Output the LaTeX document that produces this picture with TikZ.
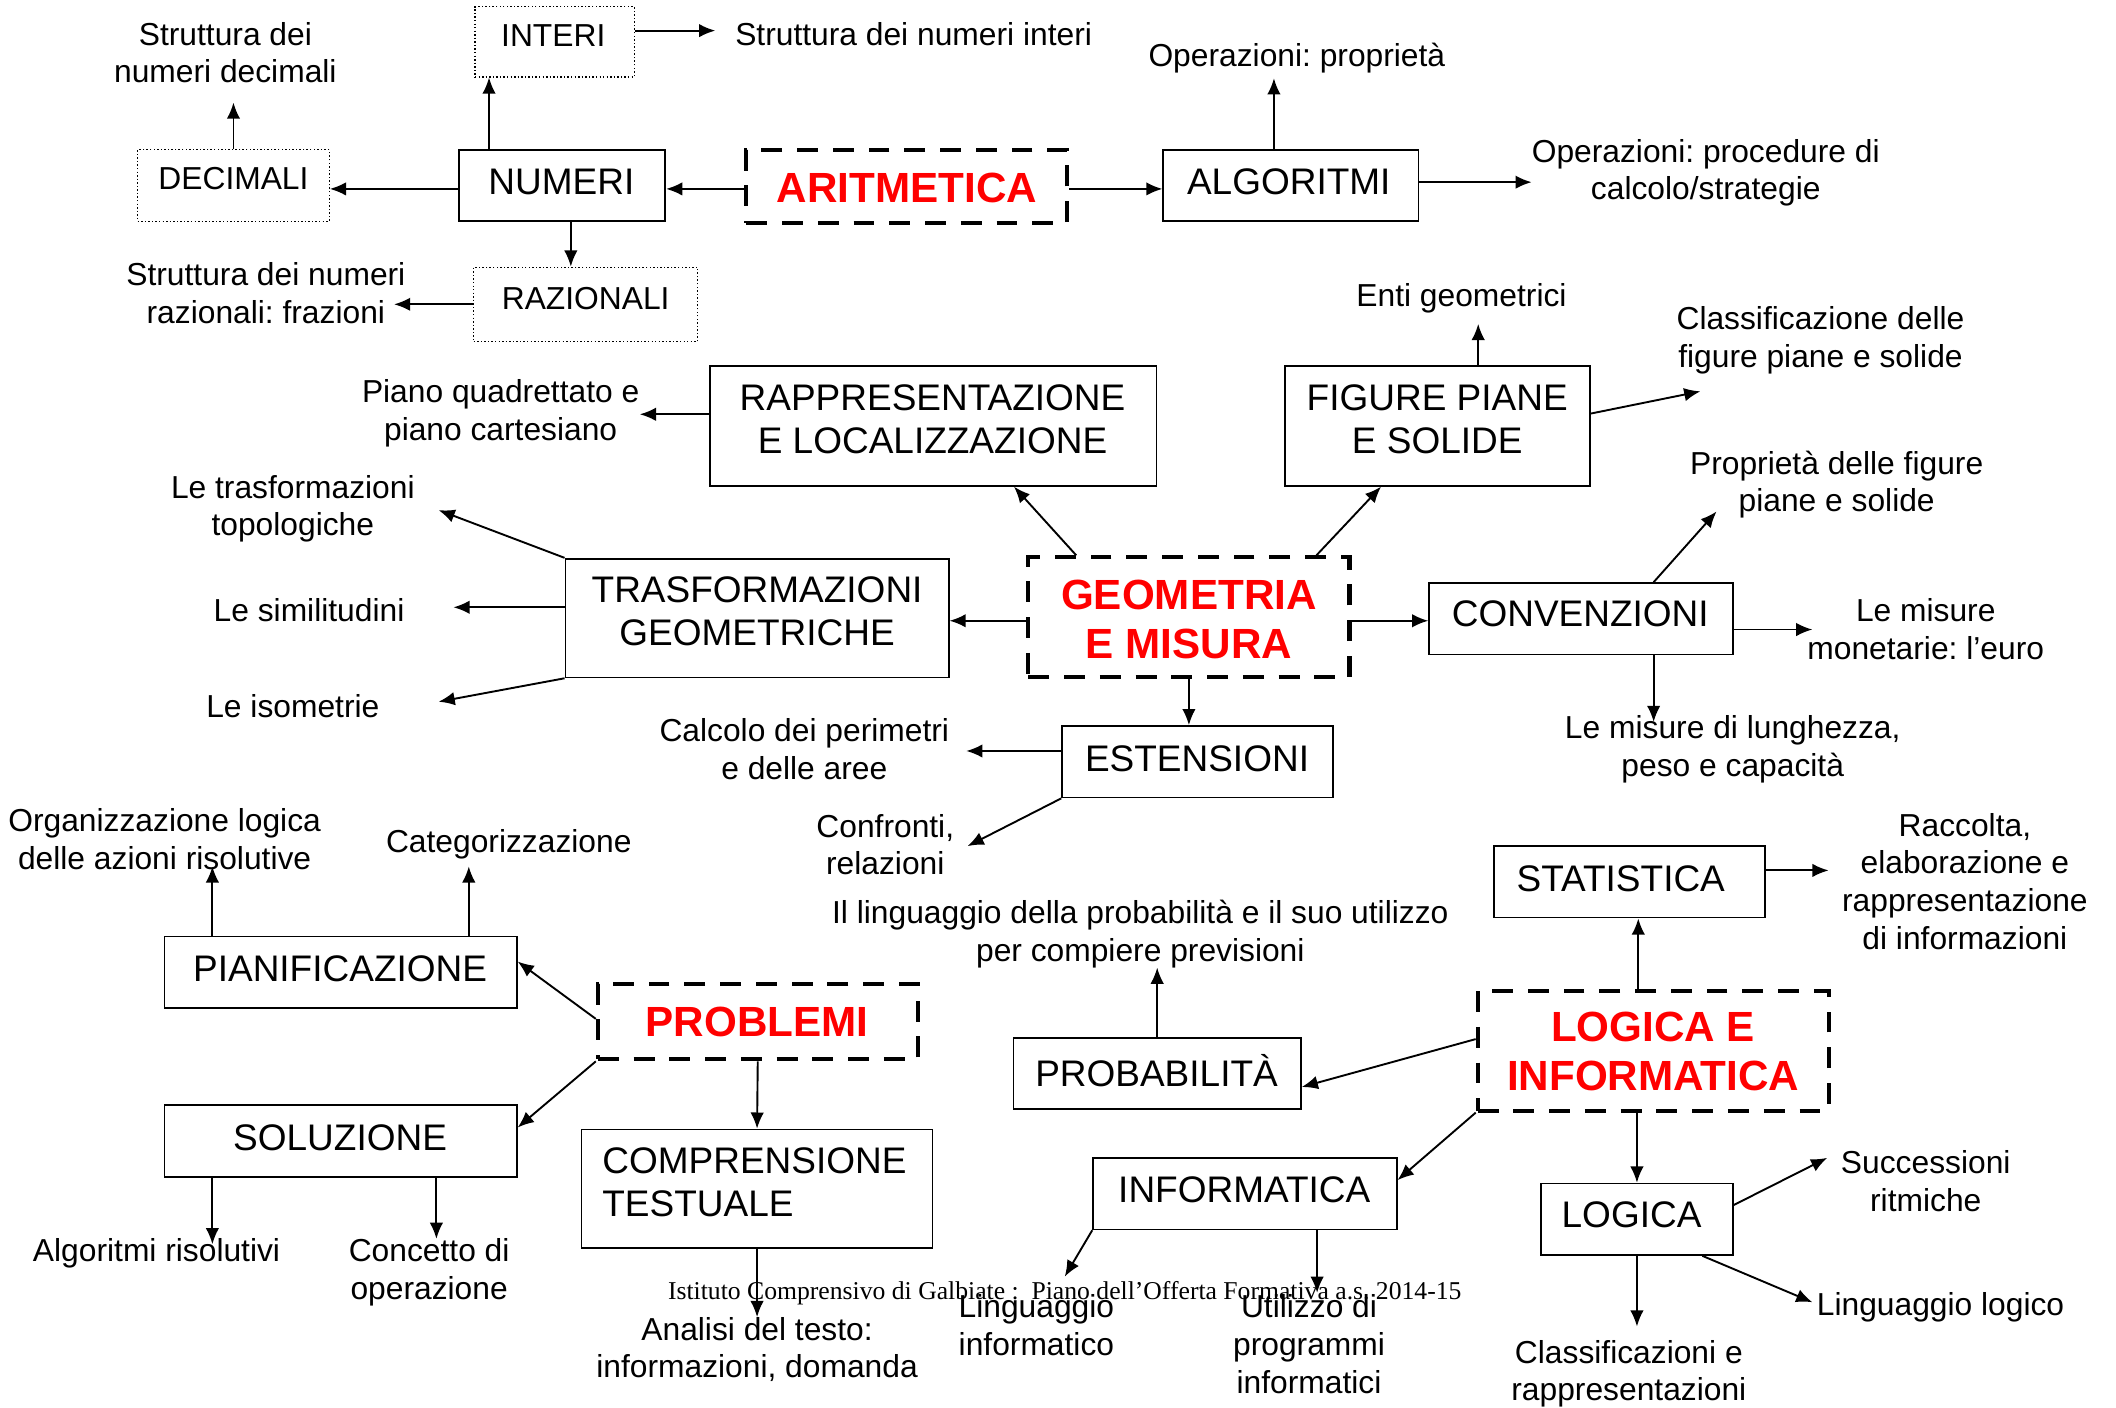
\documentclass[tikz,border=0pt]{standalone}
\usepackage{fontspec}
\setmainfont{Liberation Sans}
\newfontfamily\footfont{Liberation Serif}
\usetikzlibrary{arrows.meta,calc}
\definecolor{titlered}{RGB}{255,0,0}
\frenchspacing

\tikzset{
  lbl/.style={font=\fontsize{13.4}{15.9}\selectfont, align=center, inner sep=0pt},
  btxt/.style={font=\fontsize{15.6}{18.2}\selectfont, align=center, inner sep=0pt},
  rtxt/.style={font=\fontsize{17.8}{20.5}\selectfont\bfseries, text=titlered, align=center, inner sep=0pt},
  plainbox/.style 2 args={draw, line width=0.7pt, inner sep=0pt,
    minimum width=#1*0.02cm, minimum height=#2*0.02cm},
  dotbox/.style 2 args={plainbox={#1}{#2}, line width=0.5pt, dash pattern=on 0.6pt off 0.9pt},
  dashbox/.style 2 args={plainbox={#1}{#2}, line width=1.7pt, dash pattern=on 0.31cm off 0.22cm},
  arr/.style={-{Latex[length=0.24cm,width=0.2cm]}, line width=0.8pt},
}

\begin{document}
\begin{tikzpicture}[x=0.02cm, y=-0.02cm]
\useasboundingbox (0,0) rectangle (1568,1043);

% ---------------- boxes ----------------
\node[dashbox={238}{54}]  (aritm)     at (672,138)   {};
\node[plainbox={153}{53}] (numeri)    at (416.5,137.5) {};
\node[dotbox={142}{53}]   (decimali)  at (173,137.5) {};
\node[dotbox={118}{52}]   (interi)    at (411,31)    {};
\node[dotbox={166}{55}]   (razionali) at (434,225.5) {};
\node[plainbox={189}{53}] (algoritmi) at (956.5,137.5) {};

\node[plainbox={331}{89}] (rapp)   at (691.5,315.5) {};
\node[plainbox={226}{89}] (figure) at (1065,315.5)  {};
\node[plainbox={284}{88}] (trasf)  at (561,458)     {};
\node[dashbox={238}{89}]  (geom)   at (881,457.5)   {};
\node[plainbox={225}{53}] (conv)   at (1171.5,458.5) {};
\node[plainbox={201}{53}] (est)    at (887.5,564.5) {};

\node[plainbox={261}{53}] (pianif) at (252.5,720.5) {};
\node[plainbox={261}{53}] (soluz)  at (252.5,845.5) {};
\node[dashbox={237}{56}]  (probl)  at (561.5,757)   {};
\node[plainbox={260}{88}] (compr)  at (561,881)     {};

\node[plainbox={201}{53}] (stat)   at (1207.5,653.5) {};
\node[plainbox={213}{53}] (prob)   at (857.5,795.5) {};
\node[dashbox={260}{89}]  (lei)    at (1225,778.5)  {};
\node[plainbox={225}{53}] (inform) at (922.5,884.5) {};
\node[plainbox={142}{53}] (logica) at (1213,903.5)  {};

% ---------------- box texts ----------------
\node[rtxt] (aritmT)     at (672,139) {ARITMETICA};
\node[btxt] (numeriT)    at (416,135) {NUMERI};
\node[lbl]  (decimaliT)  at (173,132) {DECIMALI};
\node[lbl]  (interiT)    at (410,26)  {INTERI};
\node[lbl]  (razionaliT) at (434,221) {RAZIONALI};
\node[btxt] (algoritmiT) at (955,135) {ALGORITMI};

\node[btxt] (rappT)   at (691,311)  {RAPPRESENTAZIONE\\E LOCALIZZAZIONE};
\node[btxt] (figureT) at (1065,311) {FIGURE PIANE\\E SOLIDE};
\node[btxt] (trasfT)  at (561,453)  {TRASFORMAZIONI\\GEOMETRICHE};
\node[rtxt] (geomT)   at (881,459)  {GEOMETRIA\\E MISURA};
\node[btxt] (convT)   at (1171,455) {CONVENZIONI};
\node[btxt] (estT)    at (887,562)  {ESTENSIONI};

\node[btxt] (pianifT) at (252,718) {PIANIFICAZIONE};
\node[btxt] (soluzT)  at (252,843) {SOLUZIONE};
\node[rtxt] (problT)  at (561,757) {PROBLEMI};
\node[btxt, align=left, anchor=west] (comprT) at (446,876) {COMPRENSIONE\\TESTUALE};

\node[btxt] (statT)   at (1201,651) {STATISTICA};
\node[btxt] (probT)   at (857,793)  {PROBABILITÀ};
\node[rtxt] (leiT)    at (1225,779) {LOGICA E\\INFORMATICA};
\node[btxt] (informT) at (922,882)  {INFORMATICA};
\node[btxt] (logicaT) at (1209,900) {LOGICA};

% ---------------- labels ----------------
\node[lbl] (decL)  at (167,39)   {Struttura dei\\numeri decimali};
\node[lbl] (intL)  at (677,25)   {Struttura dei numeri interi};
\node[lbl] (razL)  at (197,217)  {Struttura dei numeri\\razionali: frazioni};
\node[lbl] (algL1) at (961,43)   {Operazioni: proprietà};
\node[lbl] (algL2) at (1264,128) {Operazioni: procedure di\\calcolo/strategie};

\node[lbl] (rapL)   at (371,306)  {Piano quadrettato e\\piano cartesiano};
\node[lbl] (trL1)   at (217,377)  {Le trasformazioni\\topologiche};
\node[lbl] (trL2)   at (229,452)  {Le similitudini};
\node[lbl] (trL3)   at (217,523)  {Le isometrie};
\node[lbl] (figL1)  at (1083,221) {Enti geometrici};
\node[lbl] (figL2)  at (1349,252) {Classificazione delle\\figure piane e solide};
\node[lbl] (convL1) at (1361,359) {Proprietà delle figure\\piane e solide};
\node[lbl] (convL2) at (1427,466) {Le misure\\monetarie: l’euro};
\node[lbl] (convL3) at (1284,555) {Le misure di lunghezza,\\peso e capacità};
\node[lbl] (estL1)  at (596,555)  {Calcolo dei perimetri\\e delle aree};
\node[lbl] (estL2)  at (656,626)  {Confronti,\\relazioni};

\node[lbl] (piaL1) at (122,622) {Organizzazione logica\\delle azioni risolutive};
\node[lbl] (piaL2) at (377,626) {Categorizzazione};
\node[lbl] (solL1) at (116,929) {Algoritmi risolutivi};
\node[lbl] (solL2) at (318,943) {Concetto di\\operazione};
\node[lbl] (comL)  at (561,1000) {Analisi del testo:\\informazioni, domanda};

\node[lbl] (statL) at (1456,653) {Raccolta,\\elaborazione e\\rappresentazione\\di informazioni};
\node[lbl] (probL) at (845,692)  {Il linguaggio della probabilità e il suo utilizzo\\per compiere previsioni};
\node[lbl] (logL1) at (1427,875) {Successioni\\ritmiche};
\node[lbl] (logL2) at (1438,969) {Linguaggio logico};
\node[lbl] (logL3) at (1207,1018) {Classificazioni e\\rappresentazioni};
\node[lbl] (infL1) at (768,982)  {Linguaggio\\informatico};
\node[lbl] (infL2) at (970,996)  {Utilizzo di\\programmi\\informatici};

\node[inner sep=0pt] (footer) at (789,958)
  {\resizebox{11.76cm}{!}{\footfont Istituto Comprensivo di Galbiate :\ \ Piano dell’Offerta Formativa a.s. 2014-15}};

% ---------------- free ends of connectors ----------------
\coordinate (decEnd)   at (174,76);
\coordinate (intEnd)   at (530,22.7);
\coordinate (razEnd)   at (292,225);
\coordinate (algEndA)  at (944,58);
\coordinate (algEndB)  at (1135,135);
\coordinate (figEndA)  at (1096,240);
\coordinate (figEndB)  at (1260,290);
\coordinate (trEndA)   at (325,378);
\coordinate (trEndB)   at (336,450);
\coordinate (trEndC)   at (325,520);
\coordinate (estEndA)  at (716,556);
\coordinate (estEndB)  at (717,627);
\coordinate (convEndA) at (1272,379);
\coordinate (convEndB) at (1343,466);
\coordinate (convEndC) at (1226,535);
\coordinate (piaEndA)  at (158,642);
\coordinate (piaEndB)  at (348,642);
\coordinate (comEnd)   at (561,976);
\coordinate (solEndA)  at (158,922);
\coordinate (solEndB)  at (324,918);
\coordinate (statEnd)  at (1355,645);
\coordinate (probEnd)  at (857,717);
\coordinate (logEndA)  at (1354,858);
\coordinate (logEndB)  at (1343,965);
\coordinate (logEndC)  at (1213,983);
\coordinate (infEndA)  at (789,946);
\coordinate (infEndB)  at (976,958);

% ---------------- connectors: Aritmetica ----------------
\draw[arr] ($(aritm.west)+(0,2)$) coordinate (k1) -- (k1 -| numeri.east);
\draw[arr] ($(aritm.east)+(0,2)$) coordinate (k2) -- (k2 -| algoritmi.west);
\draw[arr] ($(numeri.west)+(0,2.5)$) coordinate (k3) -- (k3 -| decimali.east);
\draw[arr] ($(numeri.north west)+(23,0)$) coordinate (k4) -- (k4 |- interi.south);
\draw[arr] ($(numeri.south)+(6.5,0)$) coordinate (k5) -- (k5 |- razionali.north);
\draw[arr] (decimali.north) -- (decimali.north |- decEnd);
\draw[arr] ($(interi.east)+(0,-8.3)$) coordinate (k6) -- (k6 -| intEnd);
\draw[arr] (razionali.west) -- (razionali.west -| razEnd);
\draw[arr] ($(algoritmi.north)+(-12.5,0)$) coordinate (k7) -- (k7 |- algEndA);
\draw[arr] ($(algoritmi.east)+(0,-2.5)$) coordinate (k8) -- (k8 -| algEndB);

% ---------------- connectors: Geometria e misura ----------------
\draw[arr] ($(geom.north west)+(37,0)$) -- ($(rapp.south west)+(226,0)$);
\draw[arr] ($(geom.north west)+(215,0)$) -- ($(figure.south west)+(72,0)$);
\draw[arr] ($(rapp.west)+(0,-8.5)$) coordinate (k9) -- (k9 -| rapL.east);
\draw[arr] ($(figure.north west)+(144,0)$) coordinate (k10) -- (k10 |- figEndA);
\draw[arr] ($(figure.east)+(0,-9)$) -- (figEndB);
\draw[arr] ($(geom.east)+(0,2.5)$) coordinate (k11) -- (k11 -| conv.west);
\draw[arr] ($(geom.west)+(0,2.5)$) coordinate (k12) -- (k12 -| trasf.east);
\draw[arr] (trasf.north west) -- (trEndA);
\draw[arr] ($(trasf.west)+(0,-8)$) coordinate (k13) -- (k13 -| trEndB);
\draw[arr] (trasf.south west) -- (trEndC);
\draw[arr] (geom.south) -- (geom.south |- est.north);
\draw[arr] ($(est.west)+(0,-8)$) coordinate (k14) -- (k14 -| estEndA);
\draw[arr] (est.south west) -- (estEndB);
\draw[arr] ($(conv.north west)+(167,0)$) -- (convEndA);
\draw[arr] ($(conv.east)+(0,8)$) coordinate (k15) -- (k15 -| convEndB);
\draw[arr] ($(conv.south west)+(167,0)$) coordinate (k16) -- (k16 |- convEndC);

% ---------------- connectors: Problemi ----------------
\draw[arr] ($(pianif.north west)+(36,0)$) coordinate (k17) -- (k17 |- piaEndA);
\draw[arr] ($(pianif.north west)+(226,0)$) coordinate (k18) -- (k18 |- piaEndB);
\draw[arr] ($(probl.west)+(0,-2)$) -- ($(pianif.east)+(0,-8)$);
\draw[arr] (probl.south west) -- ($(soluz.east)+(0,-10)$);
\draw[arr] (probl.south) -- (compr.north);
\draw[arr] (compr.south) -- (compr.south |- comEnd);
\draw[arr] ($(soluz.south west)+(36,0)$) coordinate (k19) -- (k19 |- solEndA);
\draw[arr] ($(soluz.south west)+(202,0)$) coordinate (k20) -- (k20 |- solEndB);

% ---------------- connectors: Logica e informatica ----------------
\draw[arr] ($(lei.north)+(-11,0)$) coordinate (k21) -- (k21 |- stat.south);
\draw[arr] ($(stat.east)+(0,-8.5)$) coordinate (k22) -- (k22 -| statEnd);
\draw[arr] ($(lei.west)+(0,-8.5)$) -- ($(prob.east)+(0,10)$);
\draw[arr] (prob.north) -- (prob.north |- probEnd);
\draw[arr] (lei.south west) -- ($(inform.east)+(0,-10)$);
\draw[arr] (logica.north |- lei.south) -- (logica.north);
\draw[arr] ($(logica.east)+(0,-10.5)$) -- (logEndA);
\draw[arr] ($(logica.south)+(48.5,0)$) -- (logEndB);
\draw[arr] (logica.south) -- (logica.south |- logEndC);
\draw[arr] (inform.south west) -- (infEndA);
\draw[arr] ($(inform.south)+(53.5,0)$) coordinate (k23) -- (k23 |- infEndB);
\end{tikzpicture}
\end{document}
